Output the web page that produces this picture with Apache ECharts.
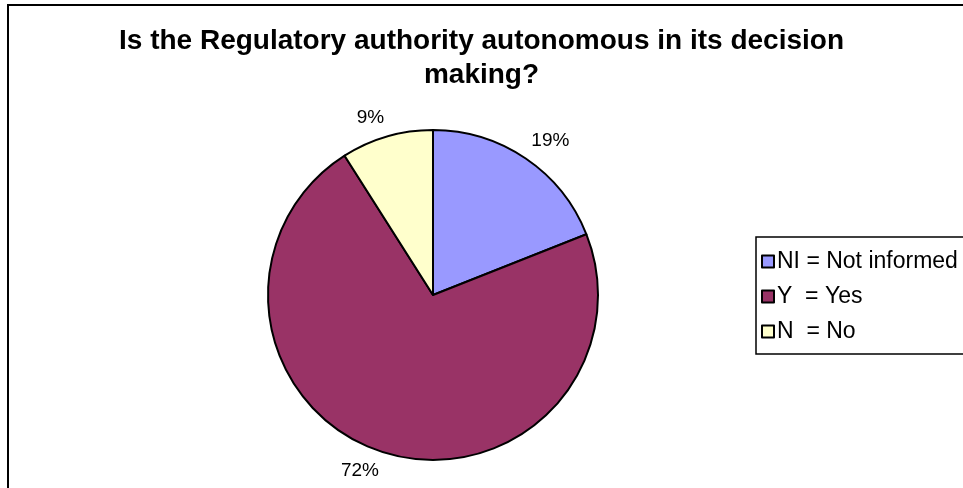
<!DOCTYPE html>
<html>
<head>
<meta charset="utf-8">
<script src="https://cdn.jsdelivr.net/npm/echarts@6/dist/echarts.min.js"></script>
<style>html,body{margin:0;padding:0;background:#fff;}#c{width:963px;height:488px;}</style>
</head>
<body>
<div id="c"></div>
<script>
const categories = ['NI = Not informed', 'Y  = Yes', 'N  = No'];
const values = [19, 72, 9];
const colors = ['#9999FF', '#993366', '#FFFFCC'];
const titleText = 'Is the Regulatory authority autonomous in its decision\nmaking?';

const CX = 433, CY = 295, R = 165, GAP = 10;
const total = values.reduce((a, b) => a + b, 0);

const LBOX = { x: 756, y: 237, w: 400, h: 117 };

const chart = echarts.init(document.getElementById('c'));
chart.setOption({
  animation: false,
  backgroundColor: '#fff',
  title: {
    text: titleText,
    left: 'center',
    top: 24,
    padding: 0,
    textStyle: { fontFamily: 'Liberation Sans, Arial', fontSize: 28, fontWeight: 'bold', color: '#000', lineHeight: 34 }
  },
  graphic: [{
    type: 'rect', silent: true, z: -1,
    shape: { x: 8, y: 5, width: 1200, height: 1000 },
    style: { fill: 'none', stroke: '#000', lineWidth: 2 }
  }, {
    type: 'rect', silent: true, z: -1,
    shape: { x: LBOX.x, y: LBOX.y, width: LBOX.w, height: LBOX.h },
    style: { fill: '#fff', stroke: '#000', lineWidth: 1.5 }
  }],
  legend: {
    orient: 'vertical',
    left: LBOX.x,
    top: LBOX.y,
    padding: [11, 0, 9, 5],
    borderWidth: 0,
    itemWidth: 12,
    itemHeight: 12,
    itemGap: 8,
    icon: 'rect',
    data: categories,
    textStyle: { fontFamily: 'Liberation Sans, Arial', fontSize: 23, color: '#000', lineHeight: 27, padding: [0, 0, 0, -2] }
  },
  series: [{
    type: 'pie',
    center: [CX, CY],
    radius: R,
    startAngle: 90,
    clockwise: true,
    data: categories.map((name, i) => ({ name, value: values[i], itemStyle: { color: colors[i] } })),
    itemStyle: { borderColor: '#000', borderWidth: 2 },
    emphasis: { disabled: true },
    label: {
      show: true,
      position: 'outside',
      formatter: '{d}%',
      fontFamily: 'Liberation Sans, Arial',
      fontSize: 19,
      color: '#000'
    },
    labelLine: { show: false, length: GAP, length2: 0 },
    labelLayout: function (p) {
      const i = p.dataIndex;
      let before = 0;
      for (let k = 0; k < i; k++) before += values[k];
      const mid = (before + values[i] / 2) / total * Math.PI * 2;
      const dx = Math.sin(mid), dy = -Math.cos(mid);
      return {
        x: CX + dx * (R + GAP),
        y: CY + dy * (R + GAP),
        align: dx >= 0 ? 'left' : 'right',
        verticalAlign: dy < 0 ? 'bottom' : 'top'
      };
    }
  }]
});
</script>
</body>
</html>
